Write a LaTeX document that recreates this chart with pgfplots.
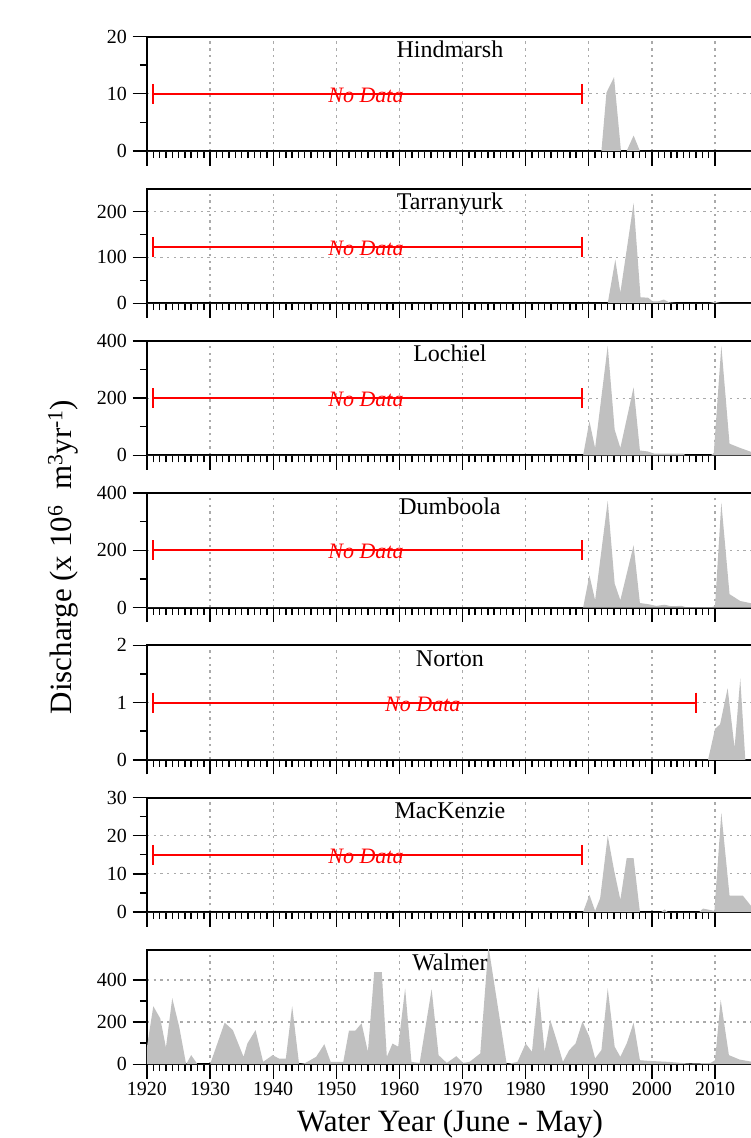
\documentclass[border=0pt]{standalone}
\usepackage{fontspec}
\setmainfont{Liberation Serif}
\usepackage{pgfplots}
\pgfplotsset{compat=1.18}

\definecolor{areagray}{RGB}{192,192,192}
\definecolor{gridgray}{RGB}{170,170,170}

\pgfplotsset{
  panel/.style={
    scale only axis, width=605.9pt, height=114.5pt,
    anchor=south west,
    xmin=1920, xmax=2016, ymin=0,
    xtick={1920,1930,...,2010}, xticklabels={},
    minor x tick num=9, minor y tick num=1,
    tick align=outside, tick pos=left,
    major tick length=14.5pt, minor tick length=7pt,
    axis line style={line width=2pt},
    every tick/.style={black, line width=1.4pt},
    grid=major,
    major grid style={gridgray, line width=1.3pt, dash pattern=on 2.4pt off 4.3pt},
    tick label style={font=\fontsize{20}{20}\selectfont},
    yticklabel style={xshift=-2pt},
    /pgf/number format/assume math mode=true,
  },
  area/.style={draw=none, fill=areagray},
  nodata/.style={red, line width=2pt, mark=|, mark size=10pt, mark options={solid}},
}
\newcommand{\paneltitle}[1]{\node[anchor=base, yshift=-21pt, font=\fontsize{24}{24}\selectfont] at (rel axis cs:0.5,1) {#1};}
\newcommand{\nodatalabel}[2]{\node[red, yshift=-1.5pt, font=\fontsize{22}{22}\selectfont\itshape] at (axis cs:#1,#2) {No Data};}

\begin{document}
\begin{tikzpicture}
\path[use as bounding box] (-147pt,151pt) rectangle (604pt,-987pt);

% Hindmarsh
\begin{axis}[panel, at={(0pt,0pt)}, ymax=20, ytick={0,10,20}]
\addplot[area] coordinates {(1920,0) (1992,0) (1992.8,10.2) (1994,12.9) (1995.1,0) (1996,0) (1997.1,2.7) (1998.1,0) (2016,0)} \closedcycle;
\addplot[nodata] coordinates {(1921,10) (1989,10)};
\nodatalabel{1954.7}{10}
\paneltitle{Hindmarsh}
\end{axis}

% Tarranyurk
\begin{axis}[panel, at={(0pt,-152.2pt)}, ymax=250, ytick={0,100,200}]
\addplot[area] coordinates {(1920,0) (1993,0) (1994.2,95) (1995,23) (1997.1,219) (1998.2,13) (1999.4,12) (2000.1,4) (2001,4) (2001.9,8) (2002.7,2) (2004,0) (2009,0) (2010,3) (2011,0) (2016,0)} \closedcycle;
\addplot[nodata] coordinates {(1921,123) (1989,123)};
\nodatalabel{1954.7}{123}
\paneltitle{Tarranyurk}
\end{axis}

% Lochiel
\begin{axis}[panel, at={(0pt,-304.4pt)}, ymax=400, ytick={0,200,400}]
\addplot[area] coordinates {(1920,0) (1989.1,0) (1990.1,119) (1991,26) (1993,383) (1994.1,90) (1995,26) (1997.1,238) (1998.1,17) (1999.3,14) (2000.4,6) (2005,6) (2005.3,0) (2009.3,0) (2009.8,8) (2011,383) (2012.3,41) (2014,26) (2016,10)} \closedcycle;
\addplot[nodata] coordinates {(1921,200) (1989,200)};
\nodatalabel{1954.7}{200}
\paneltitle{Lochiel}
\end{axis}

% Dumboola
\begin{axis}[panel, at={(0pt,-456.6pt)}, ymax=400, ytick={0,200,400}]
\addplot[area] coordinates {(1920,0) (1989.1,0) (1990.1,113) (1991,26) (1993,373) (1994.1,84) (1995,26) (1997.1,218) (1998.1,16) (1999.4,12) (2000.7,6) (2002,10) (2003,5) (2004.7,6) (2005.3,2) (2009.5,2) (2010,5) (2011,367) (2012.3,47) (2014,23) (2016,14)} \closedcycle;
\addplot[nodata] coordinates {(1921,200) (1989,200)};
\nodatalabel{1954.7}{200}
\paneltitle{Dumboola}
\end{axis}

% Norton
\begin{axis}[panel, at={(0pt,-608.8pt)}, ymax=2, ytick={0,1,2}]
\addplot[area] coordinates {(1920,0) (2008.9,0) (2010,0.54) (2010.8,0.62) (2012,1.25) (2013.1,0.21) (2014,1.42) (2014.8,0) (2016,0)} \closedcycle;
\addplot[nodata] coordinates {(1921,1) (2007,1)};
\nodatalabel{1963.7}{1}
\paneltitle{Norton}
\end{axis}

% MacKenzie
\begin{axis}[panel, at={(0pt,-761pt)}, ymax=30, ytick={0,10,20,30}]
\addplot[area] coordinates {(1920,0) (1989.1,0) (1990.1,4.5) (1991,0.3) (1991.8,3.6) (1993,20) (1994,11) (1995,3.2) (1996,14.1) (1997.1,14.1) (1998.1,0) (2001.5,0) (2002,0.7) (2002.5,0) (2007.5,0) (2008.1,0.9) (2009.9,0.3) (2011,26) (2012.3,4.3) (2014.4,4.3) (2016,1)} \closedcycle;
\addplot[nodata] coordinates {(1921,15) (1989,15)};
\nodatalabel{1954.7}{15}
\paneltitle{MacKenzie}
\end{axis}

% Walmer
\begin{axis}[panel, at={(0pt,-913.2pt)}, ymax=543, ytick={0,200,400},
  xticklabels={1920,1930,1940,1950,1960,1970,1980,1990,2000,2010}]
\addplot[area] coordinates {(1920,83) (1921,275) (1922.1,217) (1923,79) (1924,313) (1925.1,178) (1926.2,0) (1927,43) (1928,0) (1930,0) (1932.3,197) (1933.6,162) (1935.3,35) (1935.9,98) (1937.2,162) (1938.4,11) (1939.9,43) (1940.9,27) (1942,27) (1943,276) (1944.1,0) (1945.1,6) (1946.8,35) (1948.1,95) (1949.1,11) (1951.1,11) (1952,159) (1953,159) (1954,194) (1955,59) (1956,437) (1957.2,437) (1958,35) (1958.9,98) (1959.8,83) (1960.9,360) (1961.9,11) (1963.2,6) (1965.1,356) (1966.2,43) (1967.5,6) (1969,38) (1970.1,6) (1971.1,11) (1972.8,51) (1974.1,560) (1977,0) (1978.7,11) (1980,98) (1981,59) (1982,365) (1983,59) (1983.9,210) (1984.9,114) (1985.9,11) (1986.9,67) (1987.9,98) (1989,202) (1990.1,130) (1991,27) (1992,67) (1993,360) (1994.1,83) (1995,35) (1996,98) (1997.1,197) (1998.1,19) (1999.4,16) (2002.7,11) (2004.7,6) (2006,3) (2009.3,6) (2010,19) (2010.9,305) (2012.2,43) (2013.9,22) (2016,11)} \closedcycle;
\paneltitle{Walmer}
\end{axis}

\node[rotate=90, font=\fontsize{31}{31}\selectfont] at (-84pt,-406pt) {Discharge (x 10\textsuperscript{6}\ \ m\textsuperscript{3}yr\textsuperscript{-1})};
\node[anchor=base, font=\fontsize{31}{31}\selectfont] at (303pt,-980pt) {Water Year (June - May)};
\end{tikzpicture}
\end{document}
